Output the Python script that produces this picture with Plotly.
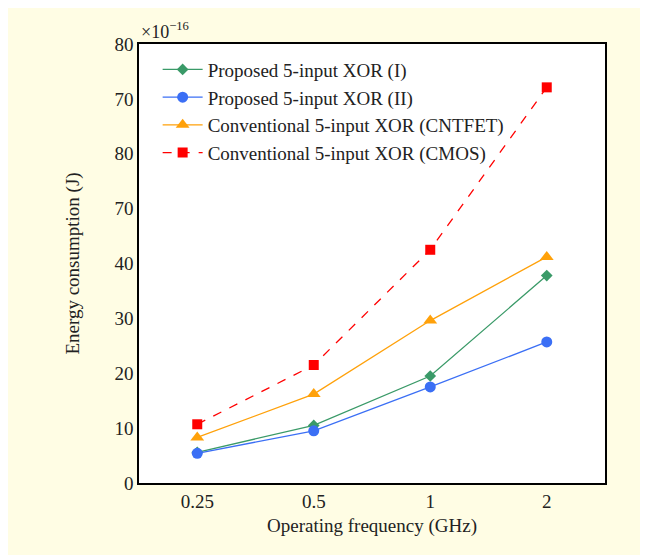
import plotly.graph_objects as go

freqs = ["0.25", "0.5", "1", "2"]
xor_i = [5.6, 10.5, 19.5, 37.8]
xor_ii = [5.4, 9.5, 17.5, 25.7]
cntfet = [8.3, 16.2, 29.6, 41.2]
cmos = [10.7, 21.5, 42.5, 72.1]
y_tickvals = [0, 10, 20, 30, 40, 50, 60, 70, 80]
y_ticktext = ["0", "10", "20", "30", "40", "70", "80", "70", "80"]

FONT = "Liberation Serif, Times New Roman, serif"
fig = go.Figure()
series = [
    ("Proposed 5-input XOR (I)", xor_i, "#3a9a68", "diamond", "solid", 9),
    ("Proposed 5-input XOR (II)", xor_ii, "#3b6ff5", "circle", "solid", 11),
    ("Conventional 5-input XOR (CNTFET)", cntfet, "#ffa10a", "triangle-up", "solid", 12),
    ("Conventional 5-input XOR (CMOS)", cmos, "#ff0000", "square", "dash", 10),
]
for name, vals, col, sym, dash, sz in series:
    fig.add_trace(go.Scatter(
        x=freqs, y=vals, name=name, mode="lines+markers",
        line=dict(color=col, width=1.3, dash=dash),
        marker=dict(symbol=sym, size=sz, color=col),
    ))

fig.update_layout(
    width=637, height=555,
    paper_bgcolor="#fffde4", plot_bgcolor="#ffffff",
    margin=dict(l=131, r=40, t=36, b=80),
    font=dict(family=FONT, size=19, color="#222222"),
    showlegend=True,
    legend=dict(x=0.04, y=0.985, xanchor="left", yanchor="top",
                bgcolor="rgba(255,255,255,0)", borderwidth=0,
                font=dict(family=FONT, size=19), tracegroupgap=0,
                itemwidth=40),
    xaxis=dict(type="category", range=[-0.5, 3.5], showgrid=False,
               showline=True, linecolor="#000000", linewidth=1.5, mirror=True,
               ticks="", title=dict(text="Operating frequency (GHz)", standoff=8,
                                    font=dict(family=FONT, size=19))),
    yaxis=dict(range=[0, 80], tickvals=y_tickvals, ticktext=y_ticktext,
               showgrid=False, zeroline=False,
               showline=True, linecolor="#000000", linewidth=1.5, mirror=True,
               ticks="", ticklen=0,
               title=dict(text="Energy consumption (J)", standoff=30,
                          font=dict(family=FONT, size=19))),
    annotations=[dict(text="×10<sup>−16</sup>", xref="paper", yref="paper",
                      x=0.0, y=1.0, xanchor="left", yanchor="bottom",
                      showarrow=False, font=dict(family=FONT, size=18))],
)
fig.write_html("out.html")
